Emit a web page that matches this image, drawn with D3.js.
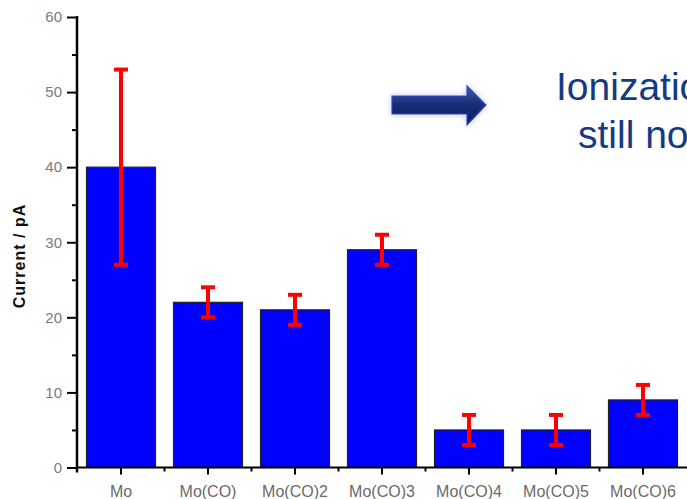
<!DOCTYPE html>
<html>
<head>
<meta charset="utf-8">
<script src="https://cdn.jsdelivr.net/npm/d3@7"></script>
<style>
  html, body { margin: 0; padding: 0; background: #fff; overflow: hidden; }
  svg { display: block; }
</style>
</head>
<body>
<svg id="chart" width="687" height="499"></svg>
<script>
// Measured ion current per species with symmetric error
const categories = ["Mo", "Mo(CO)", "Mo(CO)2", "Mo(CO)3", "Mo(CO)4", "Mo(CO)5", "Mo(CO)6"];
const currents   = [40, 22, 21, 29, 5, 5, 9];
const errors     = [13, 2, 2, 2, 2, 2, 2];
const yTicks     = [0, 10, 20, 30, 40, 50, 60];
const yMinorTicks = [5, 15, 25, 35, 45, 55];
const noteLines  = ["Ionization", "still not"];

const svg = d3.select("#chart");

const x = d3.scaleBand()
  .domain(categories)
  .range([77.5, 686.5])
  .paddingInner(0.207)
  .paddingOuter(0.1035);

const y = d3.scaleLinear().domain([0, 60]).range([467.5, 17]);

const data = categories.map((c, i) => ({ cat: c, v: currents[i], e: errors[i] }));

// Bars
svg.append("g").selectAll("rect").data(data).join("rect")
  .attr("x", d => x(d.cat))
  .attr("y", d => y(d.v))
  .attr("width", x.bandwidth())
  .attr("height", d => y(0) - y(d.v))
  .attr("fill", "#0000ff")
  .attr("stroke", "#222")
  .attr("stroke-width", 1.2);

// Error bars
const eb = svg.append("g").attr("stroke", "#ff0000").attr("stroke-width", 4);
data.forEach(d => {
  const cx = x(d.cat) + x.bandwidth() / 2;
  const capW = 7;
  eb.append("line").attr("x1", cx).attr("x2", cx)
    .attr("y1", y(d.v + d.e)).attr("y2", y(d.v - d.e));
  eb.append("line").attr("x1", cx - capW).attr("x2", cx + capW)
    .attr("y1", y(d.v + d.e)).attr("y2", y(d.v + d.e));
  eb.append("line").attr("x1", cx - capW).attr("x2", cx + capW)
    .attr("y1", y(d.v - d.e)).attr("y2", y(d.v - d.e));
});

// Y axis
const yAxis = svg.append("g").attr("transform", "translate(77,0)")
  .call(d3.axisLeft(y).tickValues(yTicks).tickSize(10).tickPadding(5).tickFormat(d3.format("d")));
yAxis.select(".domain").remove();
yAxis.selectAll(".tick line").attr("stroke", "#000").attr("stroke-width", 2);
yAxis.selectAll(".tick text")
  .attr("fill", "#7a7a7a")
  .attr("font-family", "Liberation Sans, Arial, sans-serif")
  .attr("font-size", 15);
svg.append("g").attr("transform", "translate(77,0)")
  .call(d3.axisLeft(y).tickValues(yMinorTicks).tickSize(5).tickFormat(""))
  .call(g => g.select(".domain").remove())
  .selectAll(".tick line").attr("stroke", "#000").attr("stroke-width", 2);
svg.append("line")
  .attr("x1", 77).attr("x2", 77)
  .attr("y1", y(60) - 1).attr("y2", y(0) + 5)
  .attr("stroke", "#000").attr("stroke-width", 2.5);

// X axis
const xAxis = svg.append("g").attr("transform", `translate(0,${y(0)})`)
  .call(d3.axisBottom(x).tickSize(7).tickPadding(11));
xAxis.select(".domain").remove();
xAxis.selectAll(".tick line").attr("stroke", "#000").attr("stroke-width", 2);
xAxis.selectAll(".tick text")
  .attr("fill", "#6a6a6a")
  .attr("font-family", "Liberation Sans, Arial, sans-serif")
  .attr("font-size", 16);
// minor ticks at band boundaries
const bounds = categories.slice(1).map(c => x(c) - x.step() * x.paddingInner() / 2);
svg.append("g").selectAll("line").data(bounds).join("line")
  .attr("x1", d => d).attr("x2", d => d)
  .attr("y1", y(0)).attr("y2", y(0) + 4)
  .attr("stroke", "#000").attr("stroke-width", 2);
svg.append("line")
  .attr("x1", 76).attr("x2", 687)
  .attr("y1", y(0)).attr("y2", y(0))
  .attr("stroke", "#000").attr("stroke-width", 2);

// Y axis title
svg.append("text")
  .attr("transform", "translate(25,256) rotate(-90)")
  .attr("text-anchor", "middle")
  .attr("font-family", "Liberation Sans, Arial, sans-serif")
  .attr("font-size", 16)
  .attr("font-weight", "bold")
  .attr("letter-spacing", 1)
  .attr("fill", "#111")
  .text("Current / pA");

// Arrow annotation
const defs = svg.append("defs");
const grad = defs.append("linearGradient").attr("id", "arrowFill")
  .attr("x1", 0).attr("y1", 0).attr("x2", 0).attr("y2", 1);
grad.append("stop").attr("offset", "0%").attr("stop-color", "#3d5caa");
grad.append("stop").attr("offset", "45%").attr("stop-color", "#1a2f78");
grad.append("stop").attr("offset", "100%").attr("stop-color", "#0c1a5c");
const glow = defs.append("filter").attr("id", "glow")
  .attr("x", "-30%").attr("y", "-60%").attr("width", "160%").attr("height", "220%");
glow.append("feGaussianBlur").attr("in", "SourceAlpha").attr("stdDeviation", 3).attr("result", "b");
glow.append("feFlood").attr("flood-color", "#8fa6e8").attr("flood-opacity", 0.6);
glow.append("feComposite").attr("in2", "b").attr("operator", "in").attr("result", "g");
const fm = glow.append("feMerge");
fm.append("feMergeNode").attr("in", "g");
fm.append("feMergeNode").attr("in", "SourceGraphic");

const arrowPath = d3.path();
arrowPath.moveTo(392, 96);
arrowPath.lineTo(467, 96);
arrowPath.lineTo(467, 86);
arrowPath.lineTo(486, 105);
arrowPath.lineTo(467, 125);
arrowPath.lineTo(467, 114);
arrowPath.lineTo(392, 114);
arrowPath.closePath();
svg.append("path")
  .attr("d", arrowPath.toString())
  .attr("fill", "url(#arrowFill)")
  .attr("stroke", "#2a46c8")
  .attr("stroke-width", 1.2)
  .attr("filter", "url(#glow)");

// Note text, running past the right edge of the panel
svg.append("text")
  .attr("x", 556).attr("y", 100)
  .attr("font-family", "Liberation Sans, Arial, sans-serif")
  .attr("font-size", 39)
  .attr("fill", "#143a86")
  .text(noteLines[0]);
svg.append("text")
  .attr("x", 578).attr("y", 148)
  .attr("font-family", "Liberation Sans, Arial, sans-serif")
  .attr("font-size", 39)
  .attr("fill", "#143a86")
  .text(noteLines[1]);
</script>
</body>
</html>
